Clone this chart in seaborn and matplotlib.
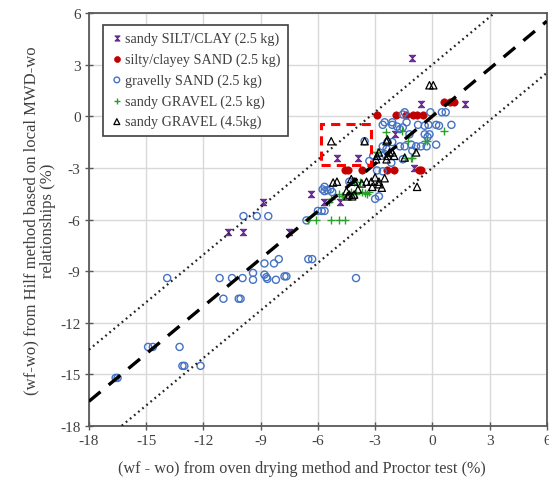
import numpy as np
import pandas as pd
import matplotlib
matplotlib.use("Agg")
import matplotlib.pyplot as plt
from matplotlib.path import Path
from matplotlib.patches import Rectangle
import seaborn as sns

# ---------------- data ----------------
silt_x = [-1.05, -0.6, 1.7, -1.95, -0.95, -5.0, -3.9, -6.35, -5.7, -4.85, -8.9, -10.7, -9.9, -7.5]
silt_y = [3.4, 0.7, 0.7, -1.05, -3.0, -2.45, -2.45, -4.5, -5.0, -5.0, -5.0, -6.75, -6.75, -6.75]

ssand_x = [0.6, 0.9, 1.15, -2.9, -1.9, -1.4, -1.0, -0.8, -0.5,
           -4.6, -4.4, -3.7, -2.4, -2.0, -0.7, -0.6]
ssand_y = [0.8, 0.8, 0.8, 0.05, 0.05, 0.05, 0.05, 0.05, 0.05,
           -3.1, -3.1, -3.1, -3.1, -3.1, -3.1, -3.1]

gsand_x = [-16.6, -16.5, -14.9, -14.65, -13.25, -13.1, -13.0, -12.15,
           -13.9, -11.15, -10.5, -9.95, -9.4, -9.4, -8.8, -8.7, -8.65, -8.2,
           -10.95, -10.15, -10.05, -9.9, -9.2, -8.6, -8.8, -8.3, -8.05,
           -6.0, -5.8, -5.65, -6.6, -6.5, -6.3, -7.75, -7.65, -4.0,
           -5.65, -5.65, -5.35, -5.75, -5.5, -5.25, -2.8, -3.0, -4.35, -4.1,
           -2.6, -2.9, -2.5, -2.4, -3.55, -2.65, -2.15, -1.55,
           -1.45, -0.1, 0.5, 0.7, -2.5, -2.1, -1.35, -1.55,
           -2.6, -2.1, -1.85, -1.55, -0.75, -0.4, -0.2, 0.2, 0.35, 1.0,
           -1.7, -1.2, -0.4, -0.15,
           -2.6, -2.35, -2.1, -1.7, -1.45, -1.1, -0.85, -0.6, -0.3, 0.2,
           -1.05, -0.25, -3.3, -3.1]
gsand_y = [-15.2, -15.2, -13.4, -13.4, -13.4, -14.5, -14.5, -14.5,
           -9.4, -9.4, -9.4, -9.4, -9.1, -9.5, -9.2, -9.35, -9.45, -9.5,
           -10.6, -10.6, -10.6, -5.8, -5.8, -5.8, -8.55, -8.55, -8.3,
           -5.5, -5.5, -5.5, -6.05, -8.3, -8.3, -9.3, -9.3, -9.4,
           -4.1, -4.35, -4.25, -4.25, -4.3, -4.4, -4.65, -4.8, -3.8, -3.8,
           -3.2, -3.15, -2.2, -1.9, -1.45, -2.3, -2.7, -2.5,
           0.23, 0.23, 0.23, 0.23, -0.35, -0.35, -0.35, 0.1,
           -0.5, -0.5, -0.6, -0.65, -0.5, -0.55, -0.5, -0.5, -0.55, -0.5,
           -0.75, -1.05, -1.05, -1.05,
           -1.75, -1.5, -1.5, -1.75, -1.75, -1.65, -1.75, -1.75, -1.75, -1.65,
           -2.0, -1.2, -2.6, -2.3]

sgrav_x = [-6.5, -6.1, -5.3, -4.9, -4.6,
           -4.9, -4.7, -4.25, -4.0, -3.7, -3.55, -3.4, -5.4, -4.1, -3.8,
           -1.1, -2.9, -0.4, -1.3, -2.45, 0.63, -0.3, -1.45, -1.05,
           -5.3, -4.75, -3.3, -1.6]
sgrav_y = [-6.05, -6.05, -6.05, -6.05, -6.05,
           -4.5, -4.65, -4.4, -4.5, -4.4, -4.45, -4.5, -5.0, -3.8, -3.8,
           -2.4, -2.1, -1.45, -1.45, -0.9, -0.87, -1.45, -2.45, -2.45,
           -4.8, -4.65, -4.4, -0.85]

sgrav45_x = [-0.15, 0.05, -2.4, -2.8, -2.25, -2.1, -1.45, -0.85, -0.8, -2.8,
             -5.3, -3.55, -2.35,
             -5.0, -4.25, -4.1, -3.7, -3.9, -2.8, -2.65, -3.0,
             -2.9, -2.4, -2.35, -2.0, -2.95,
             -4.45, -4.2, -4.5, -5.2, -3.45, -3.2, -3.15, -2.5, -4.35, -4.1]
sgrav45_y = [1.8, 1.8, -1.45, -2.1, -2.1, -2.1, -2.4, -2.1, -4.1, -3.8,
             -1.45, -1.45, -1.35,
             -3.8, -3.65, -3.8, -3.9, -4.25, -3.95, -4.15, -3.55,
             -2.3, -2.5, -2.3, -2.3, -2.5,
             -4.65, -4.65, -4.35, -3.85, -3.8, -3.8, -4.1, -3.6, -4.55, -4.55]

labels = ["sandy SILT/CLAY (2.5 kg)", "silty/clayey SAND (2.5 kg)",
          "gravelly SAND (2.5 kg)", "sandy GRAVEL (2.5 kg)", "sandy GRAVEL (4.5kg)"]

ticks = [-18, -15, -12, -9, -6, -3, 0, 3, 6]
fit_slope = 0.92
band = 3.0
box_x = [-5.85, -3.2]
box_y = [-2.85, -0.45]

# ---------------- style ----------------
sns.set_theme(style="white")
plt.rcParams['font.family'] = ['Liberation Serif', 'DejaVu Serif']

txt = '#404040'
fig = plt.figure(figsize=(5.49, 4.81), dpi=100)
ax = fig.add_axes([0.162, 0.112, 0.834, 0.859])

# reference lines
xl = np.array([-18, 6])
ax.plot(xl, fit_slope * xl, color='black', lw=2.4, ls=(0, (4.5, 3.2)), zorder=4)
ax.plot(xl, fit_slope * xl + band, color='#222222', lw=1.6, ls=(0, (0.8, 1.6)), zorder=4)
ax.plot(xl, fit_slope * xl - band, color='#222222', lw=1.6, ls=(0, (0.8, 1.6)), zorder=4)

hourglass = Path([(-1, 1), (1, 1), (-1, -1), (1, -1), (-1, 1)],
                 [Path.MOVETO, Path.LINETO, Path.LINETO, Path.LINETO, Path.CLOSEPOLY])

sns.scatterplot(x=silt_x, y=silt_y, ax=ax, marker=hourglass, s=22,
                color='#7030A0', edgecolor='#5a2080', linewidth=0.6,
                label=labels[0], zorder=3)
sns.scatterplot(x=ssand_x, y=ssand_y, ax=ax, marker='o', s=28,
                color='#C00000', edgecolor='#C00000', linewidth=0.5,
                label=labels[1], zorder=3)
sns.scatterplot(x=gsand_x, y=gsand_y, ax=ax, marker='o', s=26,
                color='#4472C4', facecolors='none', edgecolor='#4472C4', linewidth=1.0,
                label=labels[2], zorder=3)
sns.scatterplot(x=sgrav_x, y=sgrav_y, ax=ax, marker='+', s=30,
                color='#2AA02A', linewidth=1.0,
                label=labels[3], zorder=3)
sns.scatterplot(x=sgrav45_x, y=sgrav45_y, ax=ax, marker='^', s=28,
                color='black', facecolors='none', edgecolor='black', linewidth=0.9,
                label=labels[4], zorder=3)

# red dashed box
ax.add_patch(Rectangle((box_x[0], box_y[0]), box_x[1] - box_x[0], box_y[1] - box_y[0],
                       fill=False, edgecolor='red', lw=2.2, ls=(0, (3, 2)), zorder=5))

ax.set_xlim(-18, 6)
ax.set_ylim(-18, 6)
ax.set_xticks(ticks)
ax.set_yticks(ticks)
ax.set_xticklabels([str(t) for t in ticks])
ax.set_yticklabels([str(t) for t in ticks])
ax.grid(True, color='#d9d9d9', lw=1.0)
ax.set_axisbelow(True)
for sp in ax.spines.values():
    sp.set_color('#595959')
    sp.set_linewidth(1.3)
ax.tick_params(axis='both', which='both', direction='inout', length=6, width=1.0,
               color='#595959', labelsize=11, labelcolor=txt, pad=3,
               bottom=True, left=True)

ax.set_xlabel("(wf - wo) from oven drying method and Proctor test (%)", fontsize=11.7,
              color=txt)
ax.xaxis.set_label_coords(0.465, -0.082)
ax.set_ylabel("(wf-wo) from Hilf method based on local MWD-wo\nrelationships (%)",
              fontsize=12.0, color=txt, labelpad=3, linespacing=1.05)

leg = ax.legend(loc='upper left', bbox_to_anchor=(0.03, 0.972), fontsize=10.2,
                frameon=True, fancybox=False, edgecolor='#404040', framealpha=1,
                handletextpad=0.1, handlelength=1.0, labelspacing=0.52,
                borderpad=0.5, borderaxespad=0.0, markerscale=0.8)
leg.get_frame().set_linewidth(1.2)
for t in leg.get_texts():
    t.set_color(txt)

fig.savefig("out.png", dpi=100)
